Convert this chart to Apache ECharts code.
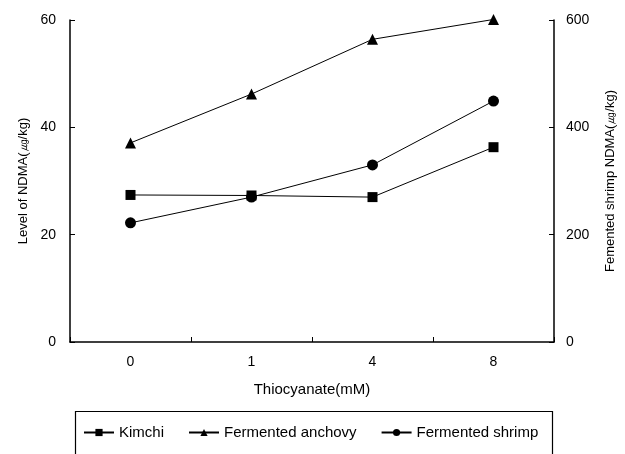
<!DOCTYPE html>
<html><head><meta charset="utf-8">
<script src="https://cdn.jsdelivr.net/npm/echarts@6/dist/echarts.min.js"></script>
<style>html,body{margin:0;padding:0;background:#fff}#c{width:625px;height:454px}</style>
</head><body><div id="c"></div>
<script>
const categories = ['0', '1', '4', '8'];
const kimchi = [27.4, 27.3, 27.0, 36.3];
const anchovy = [37.1, 46.2, 56.4, 60.1];
const shrimp = [222, 270, 330, 449];
const leftTicks = [0, 20, 40, 60];
const rightTicks = [0, 200, 400, 600];

const font = 'Liberation Sans, Arial, sans-serif';
const chart = echarts.init(document.getElementById('c'), null, {renderer: 'canvas'});
const axisCommon = {
  axisLine: {show: true, lineStyle: {color: '#000', width: 1.5}},
  axisTick: {show: true, inside: true, length: 5, lineStyle: {color: '#000'}},
  splitLine: {show: false},
  axisLabel: {color: '#000', fontSize: 14, fontFamily: font},
  nameTextStyle: {color: '#000', fontSize: 13, fontFamily: font}
};
const lineStyle = {color: '#000', width: 1};
chart.setOption({
  animation: false,
  backgroundColor: '#fff',
  grid: {left: 70, right: 70, top: 20, bottom: 112},
  xAxis: Object.assign({}, axisCommon, {
    type: 'category', data: categories, boundaryGap: true,
    name: 'Thiocyanate(mM)', nameLocation: 'middle', nameGap: 40,
    nameTextStyle: {color: '#000', fontSize: 15, fontFamily: font},
    axisLabel: {color: '#000', fontSize: 14, fontFamily: font, margin: 13}
  }),
  yAxis: [
    Object.assign({}, axisCommon, {
      type: 'value', min: 0, max: 60, interval: 20, position: 'left',
      name: 'Level of NDMA(㎍/kg)', nameLocation: 'middle', nameGap: 38,
      axisLabel: {color: '#000', fontSize: 14, fontFamily: font, margin: 14}
    }),
    Object.assign({}, axisCommon, {
      type: 'value', min: 0, max: 600, interval: 200, position: 'right',
      name: 'Femented shrimp NDMA(㎍/kg)', nameLocation: 'middle', nameGap: 50,
      nameRotate: 90,
      axisLabel: {color: '#000', fontSize: 14, fontFamily: font, margin: 12}
    })
  ],
  legend: {
    left: 78, top: 420, itemGap: 24, itemWidth: 30, itemHeight: 9,
    textStyle: {color: '#000', fontSize: 15, fontFamily: font},
    data: ['Kimchi', 'Fermented anchovy', 'Fermented shrimp']
  },
  graphic: [{
    type: 'rect', left: 73, top: 409,
    shape: {width: 477, height: 60},
    style: {fill: 'none', stroke: '#000', lineWidth: 1.2}
  }],
  series: [
    {name: 'Kimchi', type: 'line', yAxisIndex: 0, data: kimchi, clip: false,
     symbol: 'rect', symbolSize: 10, lineStyle: lineStyle, itemStyle: {color: '#000'}},
    {name: 'Fermented anchovy', type: 'line', yAxisIndex: 0, data: anchovy, clip: false,
     symbol: 'triangle', symbolSize: 11, lineStyle: lineStyle, itemStyle: {color: '#000'}},
    {name: 'Fermented shrimp', type: 'line', yAxisIndex: 1, data: shrimp, clip: false,
     symbol: 'circle', symbolSize: 11, lineStyle: lineStyle, itemStyle: {color: '#000'}}
  ]
});
</script></body></html>
